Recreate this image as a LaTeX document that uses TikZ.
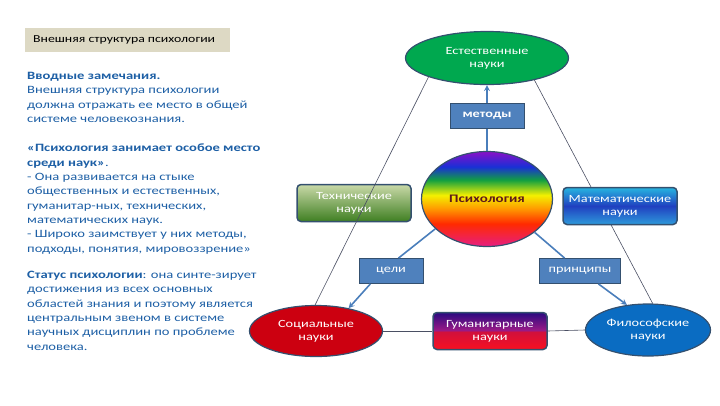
\documentclass[tikz,border=0pt]{standalone}
\usepackage{fontspec}
\setmainfont{Carlito}[FakeStretch=1.3]
\usepackage{xcolor}
\usepackage{tikz}
\usetikzlibrary{shapes.geometric}

\definecolor{titlegray}{HTML}{DDD9C4}
\definecolor{noteblue}{HTML}{1D5FA5}
\definecolor{edgeblue}{HTML}{34506F}
\definecolor{linkblue}{HTML}{4F81BD}
\definecolor{lineblue}{HTML}{4A7EBB}
\definecolor{linegray}{HTML}{4A4F63}
\definecolor{natgreen}{HTML}{00A84F}
\definecolor{socred}{HTML}{CC0010}
\definecolor{philblue}{HTML}{0A6CC2}
\definecolor{psytext}{HTML}{5E1A1A}
\definecolor{rbViolet}{HTML}{8A10C8}
\definecolor{rbBlue}{HTML}{1A2FD6}
\definecolor{rbGreen}{HTML}{12A040}
\definecolor{rbYellow}{HTML}{F4F000}
\definecolor{rbOrange}{HTML}{FF9A00}
\definecolor{rbRed}{HTML}{FF2A00}
\definecolor{rbPink}{HTML}{E61E82}
\definecolor{humTop}{HTML}{2A0A80}
\definecolor{humMid}{HTML}{9A1A86}
\definecolor{humLow}{HTML}{D0103C}
\definecolor{humBot}{HTML}{F81020}
\definecolor{techTop}{HTML}{C9D9A8}
\definecolor{techBot}{HTML}{3F7F22}
\definecolor{mathTop}{HTML}{27B5E0}
\definecolor{mathMid}{HTML}{2040C0}
\definecolor{mathBot}{HTML}{2E9ADB}

\pgfdeclareverticalshading{rainbow}{100bp}{color(0bp)=(rbPink); color(25bp)=(rbPink); color(37bp)=(rbRed); color(45bp)=(rbOrange); color(52bp)=(rbYellow); color(60bp)=(rbGreen); color(67bp)=(rbBlue); color(75bp)=(rbViolet); color(100bp)=(rbViolet)}
\pgfdeclareverticalshading{humgrad}{100bp}{color(0bp)=(humBot); color(25bp)=(humBot); color(49bp)=(humLow); color(51bp)=(humMid); color(75bp)=(humTop); color(100bp)=(humTop)}
\pgfdeclareverticalshading{mathgrad}{100bp}{color(0bp)=(mathBot); color(25bp)=(mathBot); color(50bp)=(mathMid); color(75bp)=(mathTop); color(100bp)=(mathTop)}

\begin{document}
\begin{tikzpicture}[x=1pt, y=-1pt, auto]
    % Define styles
    \tikzstyle{notes} = [anchor=north west, inner sep=0pt, align=left, text=noteblue, font=\fontsize{11.2}{14.3}\selectfont]
    \tikzstyle{sciell} = [ellipse, draw=edgeblue, line width=1.2pt, inner sep=0pt, text=white, align=center, font=\fontsize{11}{13}\selectfont]
    \tikzstyle{scibox} = [rectangle, rounded corners=4pt, draw=edgeblue, line width=1.5pt, minimum width=114pt, minimum height=37pt, inner sep=0pt, text=white, align=center, font=\fontsize{11}{13}\selectfont]
    \tikzstyle{linkbox} = [rectangle, fill=linkblue, draw=edgeblue, line width=0.8pt, minimum height=25pt, inner sep=0pt, text=white, font=\fontsize{11}{13}\selectfont]
    \tikzstyle{plainline} = [draw=linegray, line width=0.6pt]
    \tikzstyle{link} = [draw=lineblue, line width=1.6pt]
    \tikzstyle{arrow} = [link, ->, >=stealth]

    \useasboundingbox (0,0) rectangle (720,405);

    % Left column
    \node [rectangle, fill=titlegray, minimum width=205pt, minimum height=24pt, inner sep=0pt, anchor=west] (title) at (25,40) {};
    \node [anchor=west, inner sep=0pt, font=\fontsize{10.6}{13}\selectfont] (titletext) at (33,40) {Внешняя структура психологии};
    \node [notes] (intro) at (27,72) {\textbf{Вводные замечания.}\\Внешняя структура психологии\\должна отражать ее место в общей\\системе человекознания.};
    \node [notes] (place) at (27,144) {\textbf{«Психология занимает особое место}\\\textbf{среди наук»}.\\- Она развивается на стыке\\общественных и естественных,\\гуманитар-ных, технических,\\математических наук.\\- Широко заимствует у них методы,\\подходы, понятия, мировоззрение»};
    \node [notes] (status) at (27,271) {\textbf{Статус психологии}: она синте-зирует\\достижения из всех основных\\областей знания и поэтому является\\центральным звеном в системе\\научных дисциплин по проблеме\\человека.};

    % Nodes
    \node [sciell, fill=natgreen, minimum width=163pt, minimum height=53pt] (nat) at (487,58) {Естественные\\науки};
    \node [linkbox, minimum width=74pt, font=\fontsize{11}{13}\selectfont\bfseries] (methods) at (487,116) {методы};
    \node [sciell, shade, shading=rainbow, minimum width=131pt, minimum height=95pt, text=psytext, font=\fontsize{11.5}{13}\selectfont\bfseries] (psy) at (487,199) {Психология};
    \node [scibox, top color=techTop, bottom color=techBot] (tech) at (354,203) {Технические\\науки};
    \node [linkbox, minimum width=64pt] (goals) at (391,271) {цели};
    \node [linkbox, minimum width=81pt] (princ) at (580,271) {принципы};
    \node [sciell, fill=socred, minimum width=133pt, minimum height=51pt] (soc) at (316,331) {Социальные\\науки};
    \node [scibox, shade, shading=humgrad] (hum) at (490,331) {Гуманитарные\\науки};
    \node [sciell, fill=philblue, minimum width=125pt, minimum height=52pt] (phil) at (648,330) {Философские\\науки};

    % Arrows
    \draw [link] (psy.north) -- (methods.south);
    \draw [arrow] (methods.north) -- (nat.south);
    \draw [link] (psy.210) -- (goals.60);
    \draw [arrow] (goals.212) -- (soc.35);
    \draw [link] (psy.-35) -- (princ.140);
    \draw [arrow] (princ.-35) -- (phil.130);
    \draw [plainline] (nat.198) -- (soc.92);
    \draw [plainline] (nat.335) -- (phil.80);
    \draw [plainline] (soc.east) -- (hum.west);
    \draw [plainline] (hum.east) -- (phil.west);

    \node [scibox, shade, shading=mathgrad] (math) at (620,206) {Математические\\науки};
\end{tikzpicture}
\end{document}
